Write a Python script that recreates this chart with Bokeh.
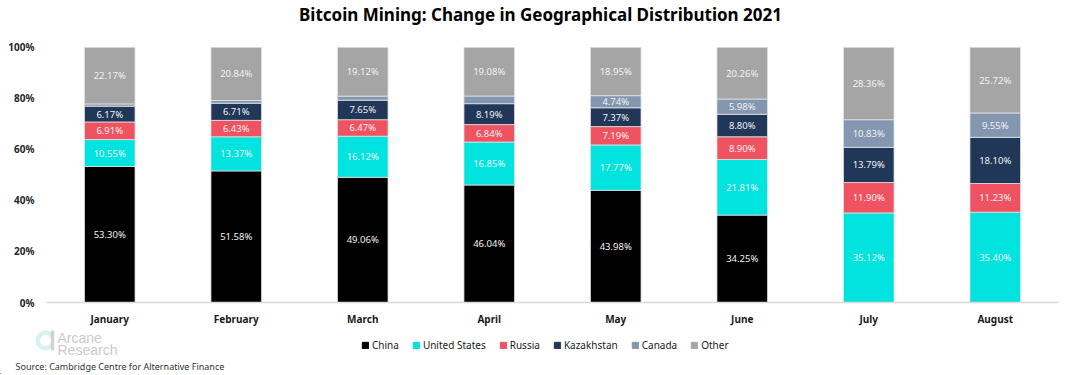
from bokeh.plotting import figure
from bokeh.models import (ColumnDataSource, Label, Legend, PrintfTickFormatter,
                          FixedTicker, Range1d)
from bokeh.embed import file_html
from bokeh.resources import INLINE
from bokeh.core.properties import value

months = ["January", "February", "March", "April", "May", "June", "July", "August"]
china = [53.30, 51.58, 49.06, 46.04, 43.98, 34.25, 0.0, 0.0]
usa = [10.55, 13.37, 16.12, 16.85, 17.77, 21.81, 35.12, 35.40]
russia = [6.91, 6.43, 6.47, 6.84, 7.19, 8.90, 11.90, 11.23]
kazakhstan = [6.17, 6.71, 7.65, 8.19, 7.37, 8.80, 13.79, 18.10]
canada = [0.90, 1.07, 1.58, 3.00, 4.74, 5.98, 10.83, 9.55]
other = [22.17, 20.84, 19.12, 19.08, 18.95, 20.26, 28.36, 25.72]
countries = ["China", "United States", "Russia", "Kazakhstan", "Canada", "Other"]
colors = ["#000000", "#00E3DE", "#EF5260", "#203758", "#8497B0", "#A5A5A5"]
y_ticks = [0, 20, 40, 60, 80, 100]
label_min = 4.0

FONT = "Noto Sans"
W = 1074
H1 = 328
H2 = 46
B_LEFT = 46
B_RIGHT = 16
B_BOTTOM = 25
FRAME_H = H1 - B_BOTTOM
PX_PER_100 = 256.0
Y_TOP = 100.0 * FRAME_H / PX_PER_100

series = [china, usa, russia, kazakhstan, canada, other]
data = {"months": months}
for name, vals in zip(countries, series):
    data[name] = vals
source = ColumnDataSource(data)

p = figure(x_range=months, y_range=Range1d(0, Y_TOP), width=W, height=H1,
           output_backend="svg", toolbar_location=None,
           min_border_left=B_LEFT, min_border_right=B_RIGHT, min_border_top=0,
           min_border_bottom=B_BOTTOM)

renderers = p.vbar_stack(countries, x="months", width=0.4, color=colors, source=source,
                         line_color="#E3E3E3", line_width=0.8)

# segment labels
lx, ly, lt = [], [], []
for i, m in enumerate(months):
    base = 0.0
    for vals in series:
        v = vals[i]
        if v >= label_min:
            lx.append(m)
            ly.append(base + v / 2)
            lt.append("%.2f%%" % v)
        base += v
p.text(x=lx, y=ly, text=lt, text_align="center", text_baseline="middle",
       text_font=value(FONT), text_font_size="9.5px", text_color="#F2F2F2")

# axes
p.yaxis.ticker = FixedTicker(ticks=y_ticks)
p.yaxis.formatter = PrintfTickFormatter(format="%d%%")
p.yaxis.axis_line_color = None
p.yaxis.major_tick_line_color = None
p.yaxis.minor_tick_line_color = None
p.yaxis.major_label_text_font = FONT
p.yaxis.major_label_text_font_size = "10px"
p.yaxis.major_label_text_font_style = "bold"
p.yaxis.major_label_text_color = "#262626"
p.yaxis.major_label_standoff = 6

p.xaxis.axis_line_color = "#D9D9D9"
p.xaxis.axis_line_width = 1.5
p.xaxis.major_tick_line_color = None
p.xaxis.minor_tick_line_color = None
p.xaxis.major_label_text_font = FONT
p.xaxis.major_label_text_font_size = "10px"
p.xaxis.major_label_text_font_style = "bold"
p.xaxis.major_label_text_color = "#1a1a1a"
p.xaxis.major_label_standoff = 3

p.xgrid.grid_line_color = None
p.ygrid.grid_line_color = None
p.outline_line_color = None
p.x_range.range_padding = 0.0

p.add_layout(Label(x=540 - B_LEFT, y=FRAME_H - 15, x_units="screen", y_units="screen",
                   text="Bitcoin Mining: Change in Geographical Distribution 2021",
                   text_align="center", text_baseline="middle", text_font=FONT,
                   text_font_size="17px", text_font_style="bold", text_color="#000000"))

# bottom strip: legend, logo, source
q = figure(x_range=Range1d(0, W), y_range=Range1d(0, H2), width=W, height=H2,
           output_backend="svg", toolbar_location=None,
           min_border_left=0, min_border_right=0, min_border_top=0, min_border_bottom=0,
           x_axis_type=None, y_axis_type=None)
q.xgrid.grid_line_color = None
q.ygrid.grid_line_color = None
q.outline_line_color = None

dummy = []
for c, col in zip(countries, colors):
    dummy.append(q.vbar(x=[-1000], top=[1], width=1, color=col))
legend = Legend(items=[(c, [r]) for c, r in zip(countries, dummy)],
                orientation="horizontal", location=(361, 22),
                label_text_font=FONT, label_text_font_size="10px",
                label_text_color="#1a1a1a", glyph_width=8, glyph_height=8,
                label_standoff=3, spacing=13, padding=4, margin=0,
                border_line_color=None, background_fill_alpha=0)
q.add_layout(legend, "center")

# logo
q.annular_wedge(x=[45], y=[34], inner_radius=6, outer_radius=9.5,
                start_angle=0.6, end_angle=-0.6, color="#D6F2F1",
                inner_radius_units="screen", outer_radius_units="screen")
q.rect(x=[52], y=[34], width=2.5, height=19, color="#D2D2D2")
q.add_layout(Label(x=57, y=37, x_units="screen", y_units="screen", text="Arcane",
                   text_align="left", text_baseline="middle",
                   text_font="Liberation Sans", text_font_size="14px",
                   text_color="#CBCBCB"))
q.add_layout(Label(x=57, y=25, x_units="screen", y_units="screen", text="Research",
                   text_align="left", text_baseline="middle",
                   text_font="Liberation Sans", text_font_size="14px",
                   text_color="#CBCBCB"))
q.add_layout(Label(x=15, y=8, x_units="screen", y_units="screen",
                   text="Source: Cambridge Centre for Alternative Finance",
                   text_align="left", text_baseline="middle", text_font=FONT,
                   text_font_size="9px", text_color="#333333"))

open("out.html", "w").write(file_html([p, q], INLINE))
